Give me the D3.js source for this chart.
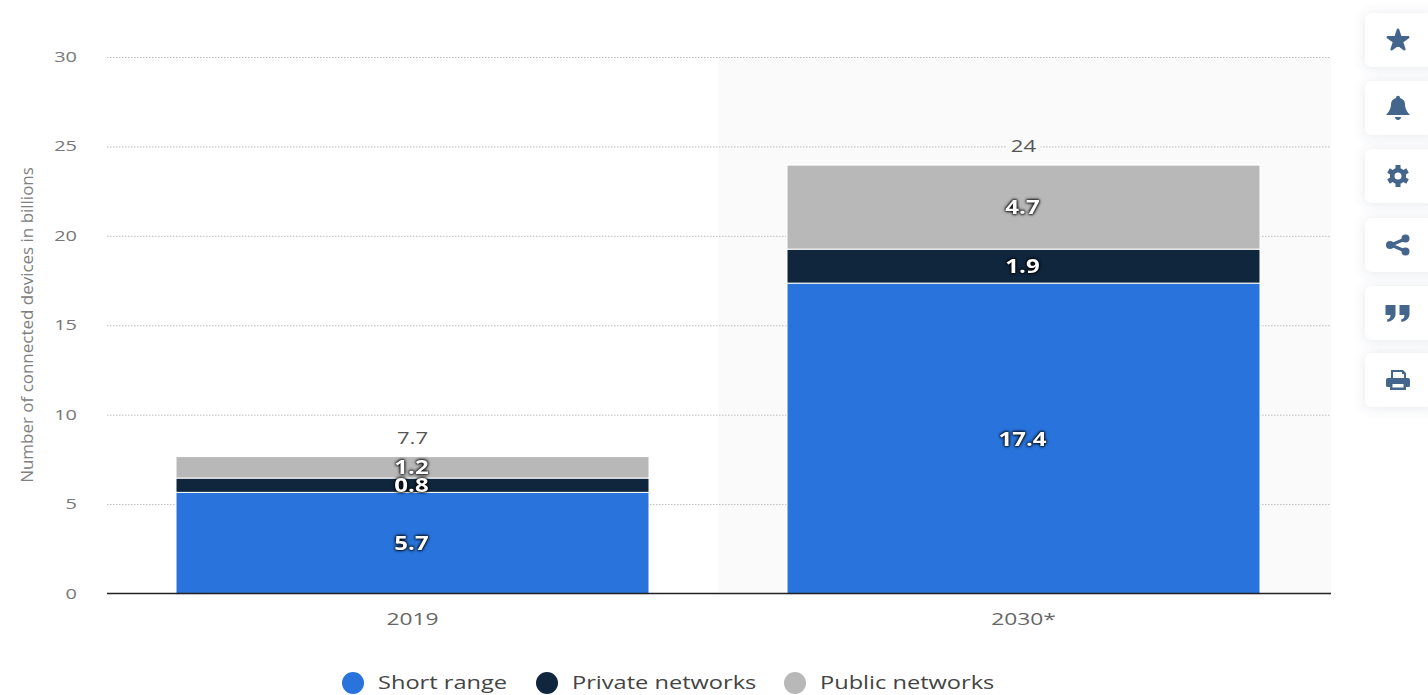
<!DOCTYPE html>
<html>
<head>
<meta charset="utf-8">
<script src="https://cdn.jsdelivr.net/npm/d3@7/dist/d3.min.js"></script>
<style>
  html, body { margin: 0; padding: 0; background: #fff; }
  svg { display: block; font-family: "Open Sans", sans-serif; }
  .inner-label { filter: drop-shadow(0 0 1.4px #000) drop-shadow(0 0 1.2px rgba(0,0,0,.9)); }
</style>
</head>
<body>
<svg id="chart" width="1428" height="695"></svg>
<script>
const years = ["2019", "2030*"];
const seriesNames = ["Short range", "Private networks", "Public networks"];
const shortRange = [5.7, 17.4];
const privateNetworks = [0.8, 1.9];
const publicNetworks = [1.2, 4.7];
const totals = [7.7, 24];
const yTicks = [0, 5, 10, 15, 20, 25, 30];
const seriesColors = ["#2874dc", "#10263d", "#b8b8b8"];
const forecastYear = "2030*";
const yTitle = "Number of connected devices in billions";

const svg = d3.select("#chart");
const plot = { left: 107, right: 1331, top: 57, bottom: 593.5 };

const x = d3.scaleBand().domain(years).range([plot.left, 1329]).paddingInner(0).paddingOuter(0);
const barWidth = 473;
const y = d3.scaleLinear().domain([0, 30]).range([plot.bottom, plot.top]);

// Widens a text selection to imitate the broad letterforms of the chart
function widen(sel, k) {
  sel.each(function () {
    const t = d3.select(this);
    t.attr("textLength", this.getComputedTextLength() * k).attr("lengthAdjust", "spacingAndGlyphs");
  });
  return sel;
}

// Forecast background band
svg.append("rect")
  .attr("x", x(forecastYear)).attr("y", plot.top)
  .attr("width", plot.right - x(forecastYear)).attr("height", plot.bottom - plot.top)
  .attr("fill", "#fafafa");

// Value axis with dotted grid lines
const yAxis = svg.append("g")
  .attr("transform", `translate(${plot.left},0)`)
  .call(d3.axisLeft(y).tickValues(yTicks).tickSize(-(plot.right - plot.left)).tickPadding(30));
yAxis.select(".domain").remove();
yAxis.selectAll(".tick line")
  .attr("stroke", "#bcbcbc").attr("stroke-width", 1).attr("stroke-dasharray", "1.5 1.5")
  .filter(d => d === 0).attr("stroke", "none");
widen(yAxis.selectAll(".tick text")
  .attr("fill", "#777").attr("font-size", 15).attr("font-family", "Open Sans")
  .attr("dy", "0.3em"), 1.33);

// Stacked bars
const stackRows = years.map((yr, i) => ({
  year: yr,
  [seriesNames[0]]: shortRange[i],
  [seriesNames[1]]: privateNetworks[i],
  [seriesNames[2]]: publicNetworks[i]
}));
const stacked = d3.stack().keys(seriesNames)(stackRows);
const barX = yr => x(yr) + (x.bandwidth() - barWidth) / 2;

const layers = svg.append("g").attr("transform", "translate(0,0.8)")
  .selectAll("g").data(stacked).join("g")
  .attr("fill", (d, i) => seriesColors[i]);
layers.selectAll("rect").data(d => d).join("rect")
  .attr("x", d => barX(d.data.year))
  .attr("y", d => y(d[1]))
  .attr("width", barWidth)
  .attr("height", d => y(d[0]) - y(d[1]))
  .attr("stroke", "#fff").attr("stroke-width", 1);

// White labels inside each segment
const labelGroups = svg.append("g").attr("transform", "translate(0,0.5)")
  .selectAll("g").data(stacked).join("g");
const inner = labelGroups.selectAll("text").data(d => d).join("text")
  .attr("class", "inner-label")
  .attr("x", d => barX(d.data.year) + barWidth / 2 - 1)
  .attr("y", d => y((d[0] + d[1]) / 2))
  .attr("dy", "0.36em")
  .attr("text-anchor", "middle")
  .attr("fill", "#fff").attr("font-size", 20).attr("font-weight", 700)
  .text(d => d3.format(".1f")(d[1] - d[0]));
widen(inner, 1.2);

// Totals above the stacks, on a plate that interrupts the grid line
const totalGroup = svg.append("g").selectAll("g").data(years).join("g")
  .attr("transform", (yr, i) => `translate(${x(yr) + x.bandwidth() / 2},${y(totals[i]) - 18})`);
totalGroup.append("rect")
  .attr("x", -17).attr("y", -8).attr("width", 34).attr("height", 16)
  .attr("fill", (yr) => yr === forecastYear ? "#fafafa" : "none");
widen(totalGroup.append("text")
  .attr("text-anchor", "middle").attr("dy", "0.36em")
  .attr("fill", "#555").attr("font-size", 17)
  .text((yr, i) => totals[i]), 1.3);

// Category axis
const xAxis = svg.append("g")
  .attr("transform", `translate(0,${plot.bottom})`)
  .call(d3.axisBottom(x).tickSize(0).tickPadding(20));
xAxis.select(".domain").remove();
xAxis.append("line").attr("x1", plot.left).attr("x2", plot.right)
  .attr("stroke", "#222").attr("stroke-width", 1.5);
widen(xAxis.selectAll(".tick text")
  .attr("fill", "#666").attr("font-size", 16).attr("font-family", "Open Sans"), 1.42);

// Rotated axis title
widen(svg.append("text")
  .attr("transform", "translate(27,325) rotate(-90)")
  .attr("text-anchor", "middle").attr("dy", "0.36em")
  .attr("fill", "#808080").attr("font-size", 16)
  .text(yTitle), 1.06);

// Legend
const legendCx = [353, 547, 795];
const legend = svg.append("g").selectAll("g").data(seriesNames).join("g")
  .attr("transform", (d, i) => `translate(${legendCx[i]},683)`);
legend.append("circle").attr("r", 11).attr("fill", (d, i) => seriesColors[i]);
widen(legend.append("text")
  .attr("x", 25).attr("y", -1).attr("dy", "0.36em")
  .attr("fill", "#444").attr("font-size", 18.5)
  .text(d => d), 1.275);

// Side toolbar
const defs = svg.append("defs");
const shadow = defs.append("filter").attr("id", "soft").attr("x", "-40%").attr("y", "-40%").attr("width", "180%").attr("height", "180%");
shadow.append("feDropShadow").attr("dx", 0).attr("dy", 1).attr("stdDeviation", 6)
  .attr("flood-color", "#5a6e8c").attr("flood-opacity", 0.16);

const iconColor = "#44658c";
const toolbarCenters = [40, 108, 176, 245, 313, 380];
const icons = [
  g => g.append("path").attr("d", d3.symbol(d3.symbolStar, 130)())
    .attr("transform", "translate(0,0.5)")
    .attr("stroke", iconColor).attr("stroke-width", 2.5).attr("stroke-linejoin", "round"),
  g => g.append("path").attr("d", "M-12 7 C-8 3 -7 -1 -7 -4 C-7 -7 -5 -9 -2 -10 C-2 -13 2 -13 2 -10 C5 -9 7 -7 7 -4 C7 -1 8 3 12 7 Z M-3 9 H3 C3 13 -3 13 -3 9 Z"),
  g => {
    g.append("circle").attr("r", 5.8).attr("fill", "none").attr("stroke", iconColor).attr("stroke-width", 4.6);
    d3.range(6).forEach(k => g.append("rect").attr("x", -2.5).attr("y", -11).attr("width", 5).attr("height", 4.5)
      .attr("transform", `rotate(${k * 60})`));
  },
  g => {
    g.append("path").attr("d", "M-7 0 L7 -6 M-7 0 L7 6").attr("stroke", iconColor).attr("stroke-width", 3).attr("fill", "none");
    [[-8, 0], [7.5, -6.5], [7.5, 6.5]].forEach(c => g.append("circle").attr("cx", c[0]).attr("cy", c[1]).attr("r", 4));
  },
  g => {
    const q = "M0 -8 H10 V1 C10 5 7 8 2 9 L1.5 6.5 C4 6 5 4.5 5 2 H0 Z";
    g.append("path").attr("d", q).attr("transform", "translate(-12.5,0)");
    g.append("path").attr("d", q).attr("transform", "translate(1.5,0)");
  },
  g => g.append("path").attr("fill-rule", "evenodd")
    .attr("d", "M-7 -10 H5 L8 -7 V-2 H10 Q12 -2 12 0 V6 Q12 7 10 7 H8 V10 H-8 V7 H-10 Q-12 7 -12 6 V0 Q-12 -2 -10 -2 H-7 Z M-5 -8 V-2 H6 V-6 H4 V-8 Z M-5.5 4 V7.5 H5.5 V4 Z")
];
const buttons = svg.append("g").selectAll("g").data(toolbarCenters).join("g")
  .attr("transform", d => `translate(1398,${d})`);
buttons.append("rect")
  .attr("x", -33).attr("y", -27).attr("width", 75).attr("height", 54).attr("rx", 7)
  .attr("fill", "#fff").attr("filter", "url(#soft)");
buttons.append("g").attr("fill", iconColor).each(function (d, i) { icons[i](d3.select(this)); });
</script>
</body>
</html>
